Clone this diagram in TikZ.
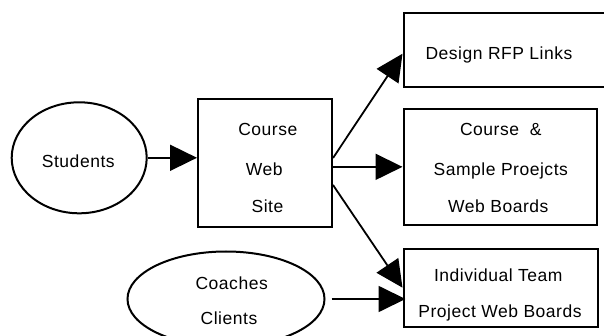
\documentclass[tikz,border=0pt]{standalone}
\usepackage{fontspec}
\setmainfont{Liberation Sans}[LetterSpace=3]
\usetikzlibrary{arrows.meta,calc,shapes.geometric}
\begin{document}
\begin{tikzpicture}[x=1pt,y=-1pt,
  lbl/.style={font=\fontsize{17.5}{20}\selectfont, anchor=base, inner sep=0pt},
  boxnode/.style={draw, line width=2pt, rectangle, inner sep=0pt},
  ellnode/.style={draw, line width=2pt, ellipse, inner sep=0pt},
  conn/.style={line width=1.8pt, -{Triangle[length=27pt,width=26pt]}}]
\useasboundingbox (0,0) rectangle (604,336);
% shapes
\node[ellnode, minimum width=135pt, minimum height=111pt] (stu) at (79.2,157.8) {};
\node[ellnode, minimum width=197pt, minimum height=95pt] (coa) at (226,299) {};
\node[boxnode, minimum width=134pt, minimum height=128pt] (cws) at (265,163) {};
\node[boxnode, minimum width=212pt, minimum height=74pt] (des) at (509.5,49.7) {};
\node[boxnode, minimum width=193.2pt, minimum height=116.3pt] (cs) at (500.1,166.85) {};
\node[boxnode, minimum width=194.8pt, minimum height=78pt] (ind) at (500.9,287.7) {};
% texts
\node[lbl] (tstu) at (78.3,167.7) {Students};
\node[lbl] (tcws1) at (267.8,135.5) {Course};
\node[lbl] (tcws2) at (264.3,175.5) {Web};
\node[lbl] (tcws3) at (267.5,212.8) {Site};
\node[lbl] (tdes) at (499,60) {Design RFP Links};
\node[lbl] (tcs1) at (500.8,136) {Course~~\&};
\node[lbl] (tcs2) at (500.8,175.3) {Sample Proejcts};
\node[lbl] (tcs3) at (498.3,212.7) {Web Boards};
\node[lbl] (tind1) at (498.3,281) {Individual Team};
\node[lbl] (tind2) at (500,317.7) {Project Web Boards};
\node[lbl] (tcoa1) at (231.7,289.3) {Coaches};
\node[lbl] (tcoa2) at (229,324.3) {Clients};
% connectors
\draw[conn] (stu.east) -- (stu.east -| cws.west);
\draw[conn] ([yshift=5pt]cws.east) -- ([yshift=-4pt]des.west);
\draw[conn] (cs.west -| cws.east) -- (cs.west);
\draw[conn] ([yshift=-22pt]cws.east) -- (ind.west);
\draw[conn] ([xshift=6pt]coa.east) -- ([xshift=3pt]coa.east -| ind.west);
\end{tikzpicture}
\end{document}
